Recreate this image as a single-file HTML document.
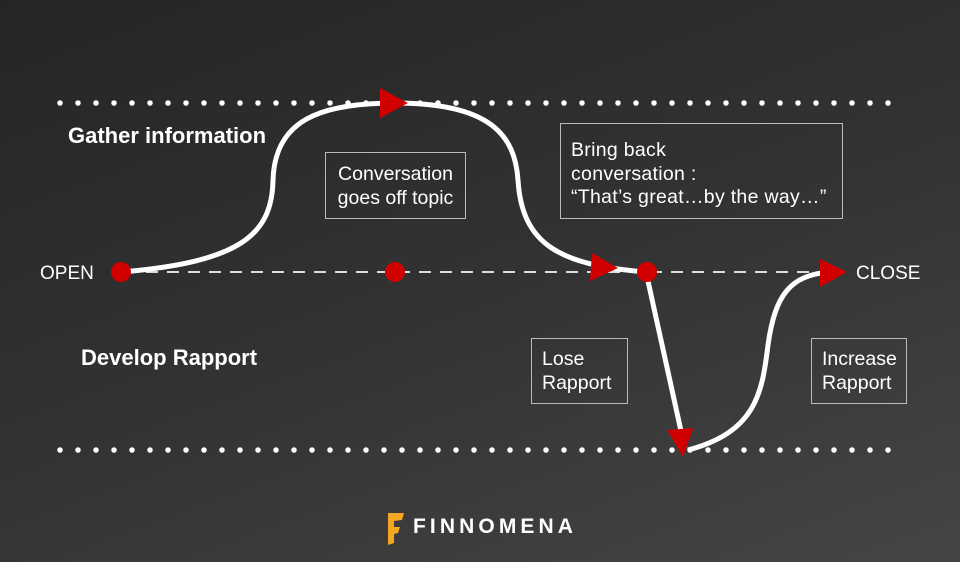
<!DOCTYPE html>
<html><head><style>
body{margin:0}
#c{position:relative;width:960px;height:562px;overflow:hidden;background:linear-gradient(160deg,#262526 0%,#333233 50%,#454545 100%);font-family:"Liberation Sans",sans-serif;color:#fff}
.t{position:absolute;font-size:22px;font-weight:bold;white-space:nowrap}
.b{position:absolute;border:1.5px solid #bbb;font-size:19.5px;line-height:23.5px;box-sizing:border-box;padding-left:10px;white-space:nowrap}
.l{position:absolute;font-size:19px}
</style></head><body><div id="c">
<svg width="960" height="562" style="position:absolute;left:0;top:0">
<line x1="60" y1="103" x2="890" y2="103" stroke="#fff" stroke-width="5.5" stroke-linecap="round" stroke-dasharray="0 18"/>
<line x1="60" y1="450" x2="890" y2="450" stroke="#fff" stroke-width="5.5" stroke-linecap="round" stroke-dasharray="0 18"/>
<line x1="125" y1="272" x2="840" y2="272" stroke="#ddd" stroke-width="2" stroke-dasharray="12 9"/>
<g fill="none" stroke="#fff" stroke-width="5">
<path d="M121,272 C240,262 272,235 273,180 C275,120 320,103 395,103 C490,103 515,135 518,180 C522,245 560,265 646,272"/>
<path d="M646,272 L683,440"/>
<path d="M688,450 C755,432 762,395 768,345 C775,295 790,275 830,272"/>
</g>
<g fill="#d00000">
<circle cx="121" cy="272" r="10"/><circle cx="395" cy="272" r="10"/><circle cx="647" cy="272" r="10"/>
<polygon points="380,88 408,103 380,118"/>
<polygon points="592,253 618,268 590,281"/>
<polygon points="820,259 847,272 820,287"/>
<polygon points="667,430 693,428 683,457"/>
</g>
<polygon points="388,513 404,513 402,520 394,521 394,527 400,527 398,533 394,534 394,543 388,545" fill="#f5a623"/>
</svg>
<div class="t" style="left:68px;top:123px">Gather information</div>
<div class="t" style="left:81px;top:345px">Develop Rapport</div>
<div class="l" style="left:40px;top:263px">OPEN</div>
<div class="l" style="left:856px;top:263px">CLOSE</div>
<div class="b" style="left:325px;top:152px;width:141px;height:67px;padding-top:10px;text-align:center;padding-left:0">Conversation<br>goes off topic</div>
<div class="b" style="left:560px;top:123px;width:283px;height:96px;padding-top:15px;letter-spacing:0.3px">Bring back<br>conversation :<br>“That’s great…by the way…”</div>
<div class="b" style="left:531px;top:338px;width:97px;height:66px;padding-top:9px">Lose<br>Rapport</div>
<div class="b" style="left:811px;top:338px;width:96px;height:66px;padding-top:9px">Increase<br>Rapport</div>
<div style="position:absolute;left:413px;top:515px;font-size:21px;font-weight:bold;letter-spacing:4.1px">FINNOMENA</div>
</div></body></html>
